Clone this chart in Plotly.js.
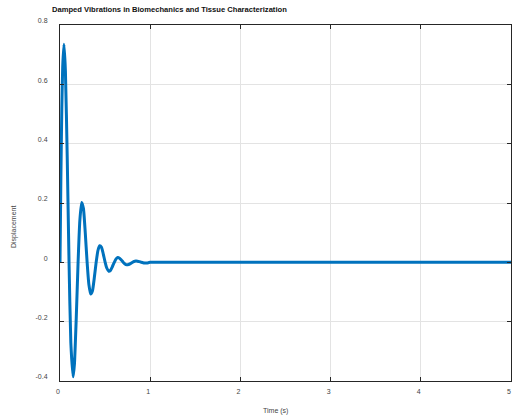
<!DOCTYPE html>
<html>
<head>
<meta charset="utf-8">
<script src="https://cdn.plot.ly/plotly-3.0.1.min.js"></script>
<style>html,body{margin:0;padding:0;background:#fff;}#chart{width:512px;height:418px;}</style>
</head>
<body>
<div id="chart"></div>
<script>
// Time samples (s)
const timeS = [0, 0.01, 0.02, 0.03, 0.044, 0.06, 0.08, 0.10, 0.12, 0.145, 0.16, 0.18, 0.20, 0.22, 0.24, 0.26, 0.28, 0.30,
  0.32, 0.34, 0.36, 0.38, 0.40, 0.42, 0.44, 0.46, 0.48, 0.50, 0.52, 0.54, 0.56, 0.58, 0.60, 0.62, 0.64, 0.66,
  0.68, 0.70, 0.72, 0.74, 0.76, 0.78, 0.80, 0.82, 0.84, 0.86, 0.88, 0.90, 0.92, 0.94, 0.96, 0.98, 1.00,
  1.10, 1.20, 1.50, 2.00, 2.50, 3.00, 3.50, 4.00, 4.50, 5.00];
// Displacement values
const displacement = [0, 0.29, 0.517, 0.66, 0.735, 0.645, 0.355, 0.003, -0.270, -0.386, -0.343, -0.189, -0.004, 0.141, 0.202, 0.181, 0.100, 0.003,
  -0.074, -0.107, -0.096, -0.053, -0.002, 0.039, 0.056, 0.051, 0.028, 0.001, -0.020, -0.030, -0.027, -0.015, -0.001, 0.011, 0.016, 0.014,
  0.008, 0.0006, -0.0055, -0.0082, -0.0074, -0.0043, -0.0003, 0.0029, 0.0043, 0.0039, 0.0023, 0.0002, -0.0015, -0.0022, -0.0020, -0.0012, 0,
  0.0003, 0, 0, 0, 0, 0, 0, 0, 0, 0];

const xTickVals = [0, 1, 2, 3, 4, 5];
const xTickText = ["0", "1", "2", "3", "4", "5"];
const yTickVals = [-0.4, -0.2, 0, 0.2, 0.4, 0.6, 0.8];
const yTickText = ["-0.4", "-0.2", "0", "0.2", "0.4", "0.6", "0.8"];

const titleText = "Damped Vibrations in Biomechanics and Tissue Characterization";
const xLabel = "Time (s)";
const yLabel = "Displacement";

const W = 512, H = 418;
const m = {l: 60, r: 1, t: 25, b: 37};
const pw = W - m.l - m.r, ph = H - m.t - m.b;
const axColor = "#262626";
const labColor = "#444";
const font = "Liberation Sans, Arial, Helvetica, sans-serif";

const trace = {
  x: timeS, y: displacement, type: "scatter", mode: "lines",
  line: {color: "#0072BD", width: 3, shape: "spline", smoothing: 0.5},
  hoverinfo: "skip", cliponaxis: true
};

const axisCommon = {
  showline: true, linecolor: axColor, linewidth: 1, mirror: "ticks",
  ticks: "inside", ticklen: 4, tickcolor: axColor, tickwidth: 1,
  showgrid: true, gridcolor: "#e3e3e3", gridwidth: 1, zeroline: false,
  tickfont: {family: font, size: 7, color: labColor}
};

const layout = {
  width: W, height: H, margin: m,
  paper_bgcolor: "#fff", plot_bgcolor: "#fff", showlegend: false,
  font: {family: font},
  xaxis: Object.assign({}, axisCommon, {range: [0, 5], tickmode: "array", tickvals: xTickVals, ticktext: xTickText,
    ticklabelstandoff: 4, ticklabelshift: -2}),
  yaxis: Object.assign({}, axisCommon, {range: [-0.4, 0.8], tickmode: "array", tickvals: yTickVals, ticktext: yTickText,
    ticklabelstandoff: 10, ticklabelshift: -4}),
  annotations: [
    {text: "<b>" + titleText + "</b>", xref: "paper", yref: "paper", x: (50 - m.l) / pw, y: 1 + (m.t - 10) / ph,
      xanchor: "left", yanchor: "middle", showarrow: false, font: {family: font, size: 7.6, color: "#111"}},
    {text: xLabel, xref: "paper", yref: "paper", x: (275 - m.l) / pw, y: -(411 - (m.t + ph)) / ph,
      xanchor: "center", yanchor: "middle", showarrow: false, font: {family: font, size: 7, color: labColor}},
    {text: yLabel, xref: "paper", yref: "paper", x: (14 - m.l) / pw, y: 1 - (227 - m.t) / ph,
      xanchor: "center", yanchor: "middle", textangle: -90, showarrow: false, font: {family: font, size: 7, color: labColor}}
  ]
};

Plotly.newPlot("chart", [trace], layout, {staticPlot: true, displayModeBar: false});
</script>
</body>
</html>
